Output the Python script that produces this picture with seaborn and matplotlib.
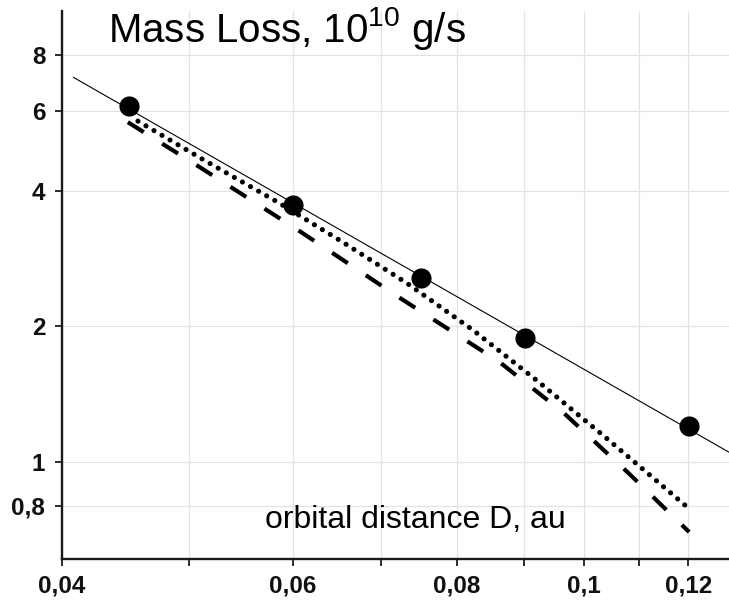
import numpy as np
import pandas as pd
import matplotlib
matplotlib.use("Agg")
import matplotlib.pyplot as plt
import seaborn as sns
from matplotlib.ticker import FixedLocator, FixedFormatter, NullLocator

# ---- data ----
obs_x = [0.045, 0.060, 0.0751, 0.0901, 0.1202]
obs_y = [6.15, 3.71, 2.56, 1.88, 1.20]

fit_x = [0.0408, 0.1289]
fit_y = [7.13, 1.052]

dot_x = [0.0457, 0.0512, 0.0584, 0.0655, 0.0733, 0.0823, 0.0922, 0.1033, 0.1120, 0.1195]
dot_y = [5.70, 4.69, 3.77, 3.07, 2.49, 1.96, 1.51, 1.148, 0.94, 0.80]

dash_x = [0.0449, 0.0511, 0.0607, 0.0724, 0.0862, 0.0965, 0.1083, 0.1202]
dash_y = [5.67, 4.48, 3.25, 2.31, 1.666, 1.284, 0.94, 0.70]

xticks = [0.04, 0.06, 0.08, 0.1, 0.12]
xtick_labels = ["0,04", "0,06", "0,08", "0,1", "0,12"]
xminor = [0.05, 0.07, 0.09, 0.11]
yticks = [0.8, 1, 2, 4, 6, 8]
ytick_labels = ["0,8", "1", "2", "4", "6", "8"]

title_text = "Mass Loss, 10$^{\\mathregular{10}}$ g/s"
xlabel_text = "orbital distance D, au"

# ---- style ----
sns.set_theme(style="white")
plt.rcParams["font.family"] = ["Liberation Sans", "DejaVu Sans"]
plt.rcParams["mathtext.fontset"] = "custom"
plt.rcParams["mathtext.rm"] = "Liberation Sans"

W, H = 729, 603
fig = plt.figure(figsize=(W / 100, H / 100), dpi=100)
ax = fig.add_axes([62 / W, (H - 559) / H, (W - 62) / W, (559 - 11) / H])

ax.set_xscale("log")
ax.set_yscale("log")
ax.set_xlim(0.04, 0.1289)
ax.set_ylim(0.61, 10)

# grid
grid_kw = dict(color="#e3e3e3", lw=0.9, zorder=0)
for gx in xticks + xminor:
    ax.axvline(gx, **grid_kw)
for gy in yticks:
    ax.axhline(gy, **grid_kw)

# lines
sns.lineplot(x=fit_x, y=fit_y, ax=ax, color="black", lw=0.8, sort=False,
             estimator=None, zorder=3)
sns.lineplot(x=dot_x, y=dot_y, ax=ax, color="black", lw=3.7, sort=False,
             estimator=None, linestyle=(0, (0.01, 1.8)),
             dash_capstyle="round", zorder=2)
sns.lineplot(x=dash_x, y=dash_y, ax=ax, color="black", lw=3.0, sort=False,
             estimator=None, linestyle=(0, (4.5, 5.2)),
             dash_capstyle="butt", zorder=2)
sns.scatterplot(x=obs_x, y=obs_y, ax=ax, color="black", s=210,
                edgecolor="black", linewidth=0, zorder=4)

# axes / ticks
for s in ["top", "right"]:
    ax.spines[s].set_visible(False)
for s in ["left", "bottom"]:
    ax.spines[s].set_color("#1a1a1a")
    ax.spines[s].set_linewidth(1.7)

ax.xaxis.set_major_locator(FixedLocator(xticks))
ax.xaxis.set_major_formatter(FixedFormatter(xtick_labels))
ax.xaxis.set_minor_locator(FixedLocator(xminor))
ax.yaxis.set_major_locator(FixedLocator(yticks))
ax.yaxis.set_major_formatter(FixedFormatter(ytick_labels))
ax.yaxis.set_minor_locator(NullLocator())
ax.xaxis.set_minor_formatter(FixedFormatter([""] * len(xminor)))

ax.tick_params(axis="both", which="both", direction="out", length=5,
               width=1.3, color="#1a1a1a", bottom=True, left=True)
ax.tick_params(axis="x", which="major", labelsize=17.5, pad=6)
ax.tick_params(axis="y", which="major", labelsize=17.5, pad=7)
for lab in ax.get_xticklabels() + ax.get_yticklabels():
    lab.set_fontweight("bold")
    lab.set_color("#111111")

fig.text(108 / W, 1 - 42 / H, title_text, fontsize=29, va="baseline",
         ha="left", color="black")
fig.text(265 / W, 1 - 528 / H, xlabel_text, fontsize=23, va="baseline",
         ha="left", color="black")

fig.savefig("out.png", dpi=100, facecolor="white")
